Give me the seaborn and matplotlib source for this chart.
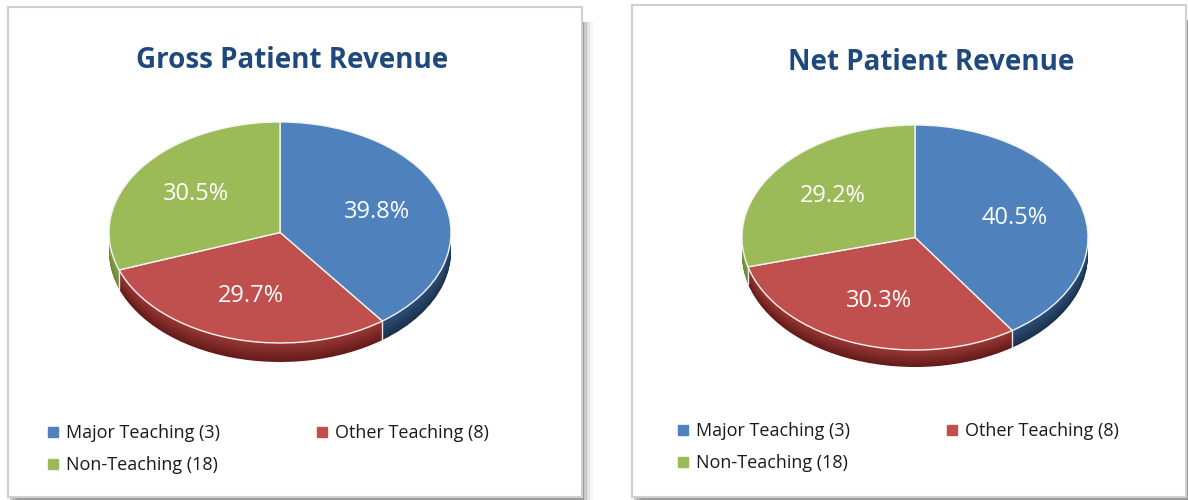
import numpy as np
import matplotlib
matplotlib.use("Agg")
import matplotlib.pyplot as plt
import seaborn as sns
from matplotlib.patches import Rectangle
from matplotlib.lines import Line2D
from matplotlib.colors import to_rgb

groups = ["Major Teaching (3)", "Other Teaching (8)", "Non-Teaching (18)"]
gross_share = [39.8, 29.7, 30.5]
net_share = [40.5, 30.3, 29.2]
titles = ["Gross Patient Revenue", "Net Patient Revenue"]

top_colors = ["#4F81BD", "#C0504D", "#9BBB59"]
side_dark = ["#1A324E", "#641B19", "#6A8532"]
side_light = ["#2E5078", "#9A3936", "#88A64A"]

sns.set_theme(style="white")
plt.rcParams["font.family"] = ["Open Sans", "DejaVu Sans"]

W, H = 1188, 500
fig = plt.figure(figsize=(W / 100, H / 100), dpi=100)
fig.patch.set_facecolor("white")


def px_box(x0, y0, x1, y1):
    return [x0 / W, 1 - y1 / H, (x1 - x0) / W, (y1 - y0) / H]


def blend(c1, c2, t):
    a, b = np.array(to_rgb(c1)), np.array(to_rgb(c2))
    return tuple(a + (b - a) * t)


def panel(x0, y0, x1, y1):
    # drop shadow to the right / bottom
    for k, a in enumerate([0.22, 0.12, 0.07, 0.04]):
        off = 2 + 3 * k
        fig.patches.append(Rectangle(((x0 + off) / W, 1 - (y1 + 3) / H),
                                     (x1 - x0) / W, (y1 - y0 - 12) / H,
                                     transform=fig.transFigure, facecolor="black",
                                     alpha=a, edgecolor="none", zorder=0))
    fig.patches.append(Rectangle((x0 / W, 1 - y1 / H), (x1 - x0) / W, (y1 - y0) / H,
                                 transform=fig.transFigure, facecolor="white",
                                 edgecolor="#D0D0D0", linewidth=1.5, zorder=1))


def draw_pie(shares, cx, cy, rx, ry, depth):
    px, ptop, pbot = 1.3, 1.3, 1.5
    ax = fig.add_axes(px_box(cx - px * rx, cy - ptop * ry, cx + px * rx, cy + pbot * ry))
    ax.set_zorder(2)
    d = depth / ry
    layers = 26
    for k in range(layers):
        t = k / (layers - 1)
        cols = [blend(side_dark[i], side_light[i], t) for i in range(3)]
        ax.pie(shares, colors=cols, startangle=90, counterclock=False,
               center=(0, -d * (1 - t)), wedgeprops=dict(linewidth=0))
    # seams on the visible side
    cum = np.cumsum(shares) / np.sum(shares)
    for c in cum[:-1]:
        ang = np.deg2rad(90 - 360 * c)
        if np.sin(ang) < 0:
            ax.plot([np.cos(ang)] * 2, [np.sin(ang), np.sin(ang) - d],
                    color="#E8E8E8", lw=1, zorder=5)
    ax.pie(shares, colors=top_colors, startangle=90, counterclock=False,
           autopct="%.1f%%", pctdistance=0.6,
           wedgeprops=dict(edgecolor="#F4F4F4", linewidth=1),
           textprops=dict(color="white", fontsize=17))
    ax.set_aspect("auto")
    ax.set_xlim(-px, px)
    ax.set_ylim(-pbot, ptop)
    ax.axis("off")
    return ax


def legend(x, y):
    hs = [Line2D([], [], marker="s", color=c, linestyle="none", markersize=6.5)
          for c in top_colors]
    order = [0, 2, 1]
    fig.legend([hs[i] for i in order], [groups[i] for i in order],
               loc="upper left", bbox_to_anchor=(x / W, 1 - y / H), ncol=2,
               frameon=False, fontsize=13, handlelength=0.7, handletextpad=0.35,
               columnspacing=5.3, labelspacing=0.8, borderpad=0, borderaxespad=0,
               labelcolor="#1A1A1A")


panel(8, 7, 582, 497)
panel(632, 5, 1186, 497)

draw_pie(gross_share, 280, 232.5, 171, 110.5, 19)
draw_pie(net_share, 915, 237.5, 173, 112.5, 17)

fig.text(292 / W, 1 - 61 / H, titles[0], ha="center", va="center",
         fontsize=20, fontweight="bold", color="#1F497D")
fig.text(931 / W, 1 - 63 / H, titles[1], ha="center", va="center",
         fontsize=20, fontweight="bold", color="#1F497D")

legend(47, 424)
legend(677, 422)

fig.savefig("out.png", dpi=100, facecolor="white")
